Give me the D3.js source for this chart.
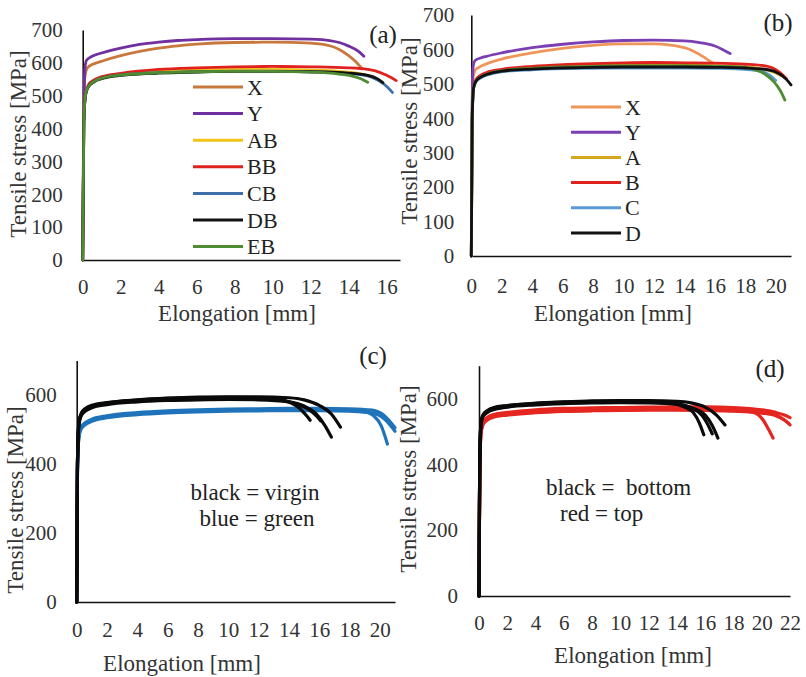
<!DOCTYPE html>
<html>
<head>
<meta charset="utf-8">
<script src="https://cdn.jsdelivr.net/npm/d3@7"></script>
<style>
  body { margin: 0; background: #fff; }
</style>
</head>
<body>
<div id="chart"></div>
<script>
// ---- data: [elongation mm, tensile stress MPa] ----

// panel (a)
const aX  = [[0,0],[0.05,400],[0.12,560],[0.25,585],[0.5,595],[1,605],[2,622],[3,635],[4,645],[5,652],[6,657],[8,662],[10,663],[12,660],[13,652],[13.5,641],[14,622],[14.4,602],[14.7,582]];
const aY  = [[0,0],[0.05,420],[0.12,585],[0.2,608],[0.5,620],[1,630],[2,645],[3,656],[4,663],[5,668],[6,671],[8,674],[10,674],[12,672],[13,668],[13.5,662],[14,651],[14.5,636],[14.8,620]];
const aAB = [[0,0],[0.06,420],[0.15,505],[0.3,530],[0.6,545],[1,555],[2,565],[4,574],[6,578],[8,580],[10,580],[12,578],[13.5,574],[14.5,568],[15,562],[15.3,556]];
const aBB = [[0,0],[0.06,420],[0.15,508],[0.3,533],[0.6,548],[1,558],[2,568],[4,580],[6,585],[8,588],[10,589],[12,588],[14,585],[15,580],[15.6,572],[16,562],[16.5,546]];
const aCB = [[0,0],[0.06,420],[0.15,503],[0.3,528],[0.6,543],[1,553],[2,563],[4,570],[6,573],[8,575],[10,575],[12,573],[14,568],[15,560],[15.6,545],[16,528],[16.3,510]];
const aDB = [[0,0],[0.06,420],[0.15,502],[0.3,527],[0.6,542],[1,552],[2,562],[4,569],[6,572],[8,574],[10,574],[12,573],[14,569],[15,562],[15.5,552],[15.8,540]];
const aEB = [[0,0],[0.06,420],[0.15,503],[0.3,528],[0.6,543],[1,553],[2,563],[4,570],[6,573],[8,574],[10,574],[12,572],[13.5,566],[14.3,558],[14.7,550],[15,541]];
const aNames = ["X", "Y", "AB", "BB", "CB", "DB", "EB"];

// panel (b)
const bX = [[0,0],[0.05,400],[0.12,520],[0.25,540],[0.5,548],[1,558],[2,572],[4,590],[6,603],[8,612],[10,616],[12,616],[13,613],[14,605],[14.6,595],[15.2,580],[15.8,562]];
const bY = [[0,0],[0.05,420],[0.12,550],[0.25,568],[0.6,575],[1,580],[2,590],[4,605],[6,615],[8,622],[10,626],[12,627],[14,625],[15,620],[16,610],[16.5,600],[17,588]];
const bA = [[0,0],[0.06,400],[0.15,490],[0.3,510],[0.6,522],[1,530],[2,540],[4,548],[6,552],[8,555],[10,556],[12,556],[14,555],[16,553],[18,549],[19,544],[19.8,535],[20.3,525]];
const bB = [[0,0],[0.06,400],[0.15,492],[0.3,512],[0.6,525],[1,533],[2,542],[4,551],[6,556],[8,559],[10,561],[12,562],[14,561],[16,560],[18,557],[19,554],[19.8,546],[20.3,532],[20.7,515]];
const bC = [[0,0],[0.06,400],[0.15,486],[0.3,505],[0.6,517],[1,525],[2,535],[4,541],[6,544],[8,545],[10,546],[12,546],[14,546],[16,545],[18,542],[19,537],[19.6,525],[20,510]];
const bD = [[0,0],[0.06,400],[0.15,488],[0.3,507],[0.6,519],[1,527],[2,537],[4,543],[6,546],[8,548],[10,549],[12,549],[14,549],[16,548],[18,546],[19.5,541],[20.2,530],[20.7,513],[21,497]];
const bE = [[0,0],[0.06,400],[0.15,489],[0.3,508],[0.6,520],[1,528],[2,538],[4,545],[6,549],[8,551],[10,552],[12,552],[14,552],[16,551],[17.5,549],[18.5,543],[19.3,528],[19.9,505],[20.3,480],[20.6,453]];
const bNames = ["X", "Y", "A", "B", "C", "D"];   // green curve has no legend entry

// panel (c): virgin (black) vs green (blue)
const cK1 = [[0,0],[0.05,400],[0.15,520],[0.3,545],[0.6,560],[1,568],[2,577],[4,585],[6,590],[8,592],[10,593],[12,592],[13,589],[14,580],[14.6,565],[15,548],[15.4,527]];
const cK2 = [[0,0],[0.05,400],[0.15,518],[0.3,542],[0.6,557],[1,566],[2,575],[4,583],[6,587],[8,589],[10,590],[12,589],[13.5,584],[14.5,574],[15.3,558],[15.8,540],[16.1,525]];
const cK3 = [[0,0],[0.05,400],[0.15,515],[0.3,540],[0.6,554],[1,563],[2,572],[4,580],[6,584],[8,586],[10,587],[12,586],[14,580],[15,568],[15.8,545],[16.4,510],[16.8,478]];
const cK4 = [[0,0],[0.05,400],[0.15,522],[0.3,547],[0.6,562],[1,570],[2,578],[4,586],[6,591],[8,594],[10,595],[12,595],[14,592],[15,586],[16,570],[16.8,545],[17.4,507]];
const cG1 = [[0,0],[0.05,380],[0.15,480],[0.3,505],[0.6,518],[1,527],[2,537],[4,546],[6,551],[8,554],[10,556],[12,557],[14,558],[16,558],[18,556],[19,552],[19.6,540],[20.1,510],[20.5,458]];
const cG2 = [[0,0],[0.05,380],[0.15,484],[0.3,508],[0.6,521],[1,530],[2,540],[4,549],[6,554],[8,557],[10,559],[12,560],[14,561],[16,561],[18,560],[19.5,556],[20.3,540],[21,505]];
const cG3 = [[0,0],[0.05,380],[0.15,478],[0.3,502],[0.6,515],[1,524],[2,534],[4,543],[6,548],[8,551],[10,553],[12,554],[14,555],[16,555],[18,553],[19.5,548],[20.3,530],[21,495]];

// panel (d): bottom (black) vs top (red)
const dK1 = [[0,0],[0.05,400],[0.15,530],[0.3,550],[0.6,562],[1,570],[2,578],[4,585],[6,589],[8,591],[10,592],[12,591],[13.5,587],[14.5,575],[15.2,555],[15.6,525],[15.9,490]];
const dK2 = [[0,0],[0.05,400],[0.15,527],[0.3,548],[0.6,560],[1,568],[2,576],[4,583],[6,587],[8,589],[10,590],[12,589],[14,584],[15,572],[15.8,548],[16.2,520],[16.5,493]];
const dK3 = [[0,0],[0.05,400],[0.15,525],[0.3,546],[0.6,558],[1,566],[2,574],[4,581],[6,585],[8,587],[10,588],[12,587],[14,583],[15,573],[16,550],[16.5,518],[16.9,480]];
const dK4 = [[0,0],[0.05,400],[0.15,532],[0.3,552],[0.6,564],[1,572],[2,579],[4,586],[6,590],[8,593],[10,594],[12,594],[14,592],[15,587],[16,574],[16.8,550],[17.4,520]];
const dR1 = [[0,0],[0.05,380],[0.15,500],[0.3,525],[0.6,538],[1,546],[2,553],[4,560],[6,564],[8,566],[10,567],[12,567],[14,567],[16,566],[18,565],[19,562],[19.6,555],[20.1,535],[20.5,505],[20.8,480]];
const dR2 = [[0,0],[0.05,380],[0.15,505],[0.3,530],[0.6,543],[1,551],[2,558],[4,566],[6,570],[8,572],[10,573],[12,574],[14,575],[16,575],[18,573],[20,566],[21,558],[21.6,550],[22,542]];
const dR3 = [[0,0],[0.05,380],[0.15,498],[0.3,522],[0.6,535],[1,543],[2,550],[4,557],[6,561],[8,563],[10,564],[12,565],[14,565],[16,564],[18,562],[20,556],[21,548],[21.6,535],[22,520]];
const dR4 = [[0,0],[0.05,380],[0.15,502],[0.3,527],[0.6,540],[1,548],[2,555],[4,562],[6,566],[8,568],[10,569],[12,570],[14,570],[16,569],[18,567],[20,560],[21,550],[21.6,535],[21.9,525]];

// tick labels
const yTicksAB = [0, 100, 200, 300, 400, 500, 600, 700];
const yTicksCD = [0, 200, 400, 600];
const xTicksA = [0, 2, 4, 6, 8, 10, 12, 14, 16];
const xTicksBC = [0, 2, 4, 6, 8, 10, 12, 14, 16, 18, 20];
const xTicksD = [0, 2, 4, 6, 8, 10, 12, 14, 16, 18, 20, 22];

// colours
const aColors = ["#C8783C", "#7030A0", "#F2C318", "#E0221E", "#3E6FA8", "#111111", "#4E8B32"];
const bColors = ["#F0955A", "#7B3FB3", "#D4A81C", "#E0221E", "#5B9BD5", "#111111", "#4E8B32"];
const blackC = "#0a0a0a", blueC = "#1F73BA", redC = "#E52620";

const FONT = "Liberation Serif, Times New Roman, Times, DejaVu Serif, serif";

const svg = d3.select("#chart").append("svg")
    .attr("width", 806)
    .attr("height", 677)
    .attr("font-family", FONT);

function drawPanel(cfg) {
    const x = d3.scaleLinear().domain([0, cfg.xMax]).range([cfg.left, cfg.right]);
    const y = d3.scaleLinear().domain([0, 700]).range([cfg.bottom, cfg.top]);
    const g = svg.append("g");

    const xAxis = g.append("g")
        .attr("transform", "translate(0," + cfg.bottom + ")")
        .call(d3.axisBottom(x).tickValues(cfg.xTicks).tickSize(0).tickSizeOuter(0).tickPadding(cfg.xPad));
    const yAxis = g.append("g")
        .attr("transform", "translate(" + cfg.left + ",0)")
        .call(d3.axisLeft(y).tickValues(cfg.yTicks).tickSize(0).tickSizeOuter(0).tickPadding(cfg.yPad));
    [xAxis, yAxis].forEach(a => {
        a.attr("font-size", 21).attr("font-family", FONT);
        a.select(".domain").attr("stroke", "#111").attr("stroke-width", 1.6);
        a.selectAll("text").attr("fill", "#333");
    });

    const line = d3.line()
        .x(d => x(d[0]))
        .y(d => y(d[1]))
        .curve(d3.curveMonotoneX);

    g.append("g").selectAll("path")
        .data(cfg.series)
        .join("path")
        .attr("d", d => line(d.pts))
        .attr("fill", "none")
        .attr("stroke", d => d.color)
        .attr("stroke-width", cfg.lineWidth)
        .attr("stroke-linecap", "round")
        .attr("stroke-linejoin", "round");

    // axis titles
    g.append("text")
        .attr("x", cfg.xTitle[0]).attr("y", cfg.xTitle[1])
        .attr("text-anchor", "middle").attr("dominant-baseline", "central")
        .attr("font-size", 23).attr("fill", "#333")
        .text("Elongation [mm]");
    g.append("text")
        .attr("transform", "translate(" + cfg.yTitle[0] + "," + cfg.yTitle[1] + ") rotate(-90)")
        .attr("text-anchor", "middle").attr("dominant-baseline", "central")
        .attr("font-size", 23).attr("fill", "#333")
        .text("Tensile stress [MPa]");
    // panel letter
    g.append("text")
        .attr("x", cfg.letterPos[0]).attr("y", cfg.letterPos[1])
        .attr("text-anchor", "middle").attr("dominant-baseline", "central")
        .attr("font-size", 25).attr("fill", "#222")
        .text(cfg.letter);

    // legend
    if (cfg.legend) {
        const lg = cfg.legend;
        const rows = g.append("g").selectAll("g")
            .data(lg.names)
            .join("g")
            .attr("transform", (d, i) => "translate(0," + (lg.y0 + i * lg.dy) + ")");
        rows.append("line")
            .attr("x1", lg.x0).attr("x2", lg.x1)
            .attr("stroke", (d, i) => lg.colors[i])
            .attr("stroke-width", 3);
        rows.append("text")
            .attr("x", lg.x1 + 4)
            .attr("dominant-baseline", "central")
            .attr("font-size", 22)
            .attr("fill", "#222")
            .text(d => d);
    }
    // free text notes
    (cfg.notes || []).forEach(n => {
        g.append("text")
            .attr("x", n.x).attr("y", n.y)
            .attr("text-anchor", n.anchor)
            .attr("dominant-baseline", "central")
            .attr("font-size", 23)
            .attr("fill", "#222")
            .style("white-space", "pre")
            .text(n.text);
    });
}

// (a)
const aCurves = [aX, aY, aAB, aBB, aCB, aDB, aEB];
drawPanel({
    letter: "(a)", letterPos: [383, 34],
    xMax: 16.7, left: 82.7, right: 400, top: 30, bottom: 260,
    xTicks: xTicksA, yTicks: yTicksAB, xPad: 19, yPad: 20,
    xTitle: [237, 313], yTitle: [18, 144],
    lineWidth: 2.8,
    series: aCurves.map((p, i) => ({pts: p, color: aColors[i]})),
    legend: {names: aNames, colors: aColors, x0: 193, x1: 243, y0: 87, dy: 26.6}
});

// (b)
const bCurves = [bX, bY, bA, bB, bC, bE, bD];
const bCurveColors = [bColors[0], bColors[1], bColors[2], bColors[3], bColors[4], bColors[6], bColors[5]];
drawPanel({
    letter: "(b)", letterPos: [778, 22],
    xMax: 21, left: 471.3, right: 791, top: 15, bottom: 256,
    xTicks: xTicksBC, yTicks: yTicksAB, xPad: 22, yPad: 17,
    xTitle: [613, 313], yTitle: [409, 131],
    lineWidth: 2.8,
    series: bCurves.map((p, i) => ({pts: p, color: bCurveColors[i]})),
    legend: {names: bNames, colors: bColors.slice(0, 6), x0: 571, x1: 621, y0: 107, dy: 25.2}
});

// (c)
drawPanel({
    letter: "(c)", letterPos: [373, 355],
    xMax: 21, left: 76.7, right: 395, top: 360.5, bottom: 602,
    xTicks: xTicksBC, yTicks: yTicksCD, xPad: 20, yPad: 20,
    xTitle: [182, 663], yTitle: [15, 500],
    lineWidth: 3.2,
    series: [cG1, cG2, cG3].map(p => ({pts: p, color: blueC}))
        .concat([cK1, cK2, cK3, cK4].map(p => ({pts: p, color: blackC}))),
    notes: [
        {text: "black = virgin", x: 255, y: 492, anchor: "middle"},
        {text: "blue = green", x: 257, y: 518, anchor: "middle"}
    ]
});

// (d)
drawPanel({
    letter: "(d)", letterPos: [770, 368],
    xMax: 22, left: 479, right: 790, top: 365.7, bottom: 596,
    xTicks: xTicksD, yTicks: yTicksCD, xPad: 19, yPad: 21,
    xTitle: [633, 655], yTitle: [408, 479],
    lineWidth: 3.2,
    series: [dR1, dR2, dR3, dR4].map(p => ({pts: p, color: redC}))
        .concat([dK1, dK2, dK3, dK4].map(p => ({pts: p, color: blackC}))),
    notes: [
        {text: "black =  bottom", x: 546, y: 487, anchor: "start"},
        {text: "red = top", x: 560, y: 513, anchor: "start"}
    ]
});
</script>
</body>
</html>
